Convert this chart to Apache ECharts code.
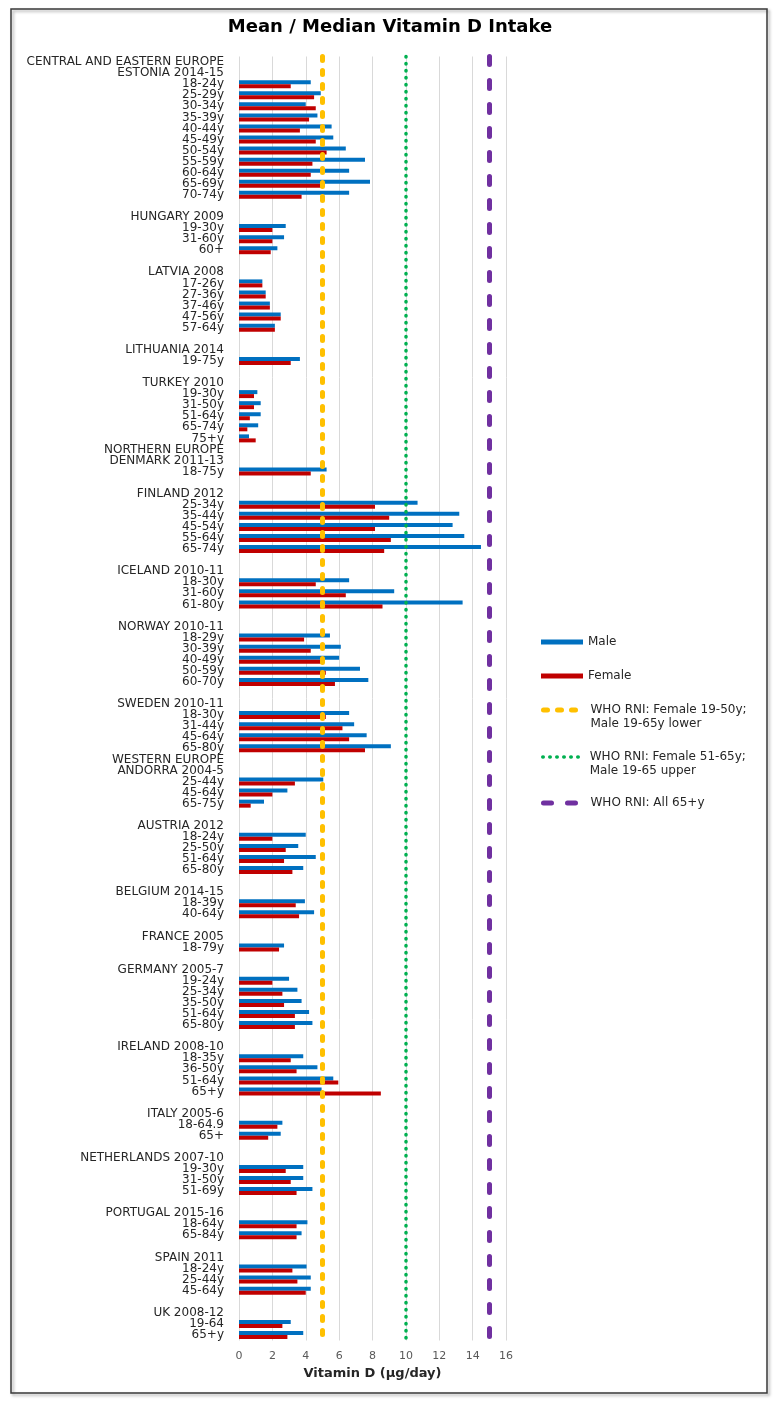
<!DOCTYPE html>
<html>
<head>
<meta charset="utf-8">
<title>Mean / Median Vitamin D Intake</title>
<script src="https://cdn.jsdelivr.net/npm/echarts@6/dist/echarts.min.js"></script>
<style>
    html, body { margin: 0; padding: 0; background: #fff; }
    #chart { width: 780px; height: 1406px; }
</style>
</head>
<body>
<div id="chart"></div>
<script>
// rows of the chart, top to bottom ('' = spacer row)
var categories = [
    'CENTRAL AND EASTERN EUROPE', 'ESTONIA 2014-15',
    '18-24y', '25-29y', '30-34y', '35-39y', '40-44y', '45-49y', '50-54y', '55-59y', '60-64y', '65-69y', '70-74y',
    '',
    'HUNGARY 2009', '19-30y', '31-60y', '60+',
    '',
    'LATVIA 2008', '17-26y', '27-36y', '37-46y', '47-56y', '57-64y',
    '',
    'LITHUANIA 2014', '19-75y',
    '',
    'TURKEY 2010', '19-30y', '31-50y', '51-64y', '65-74y', '75+y',
    'NORTHERN EUROPE', 'DENMARK 2011-13', '18-75y',
    '',
    'FINLAND 2012', '25-34y', '35-44y', '45-54y', '55-64y', '65-74y',
    '',
    'ICELAND 2010-11', '18-30y', '31-60y', '61-80y',
    '',
    'NORWAY 2010-11', '18-29y', '30-39y', '40-49y', '50-59y', '60-70y',
    '',
    'SWEDEN 2010-11', '18-30y', '31-44y', '45-64y', '65-80y',
    'WESTERN EUROPE', 'ANDORRA 2004-5', '25-44y', '45-64y', '65-75y',
    '',
    'AUSTRIA 2012', '18-24y', '25-50y', '51-64y', '65-80y',
    '',
    'BELGIUM 2014-15', '18-39y', '40-64y',
    '',
    'FRANCE 2005', '18-79y',
    '',
    'GERMANY 2005-7', '19-24y', '25-34y', '35-50y', '51-64y', '65-80y',
    '',
    'IRELAND 2008-10', '18-35y', '36-50y', '51-64y', '65+y',
    '',
    'ITALY 2005-6', '18-64.9', '65+',
    '',
    'NETHERLANDS 2007-10', '19-30y', '31-50y', '51-69y',
    '',
    'PORTUGAL 2015-16', '18-64y', '65-84y',
    '',
    'SPAIN 2011', '18-24y', '25-44y', '45-64y',
    '',
    'UK 2008-12', '19-64', '65+y'
];

// µg/day, same row order as categories
var maleValues = [
    null, null,
    4.3, 4.9, 4.0, 4.7, 5.55, 5.65, 6.4, 7.55, 6.6, 7.85, 6.6,
    null,
    null, 2.8, 2.7, 2.3,
    null,
    null, 1.4, 1.6, 1.85, 2.5, 2.15,
    null,
    null, 3.65,
    null,
    null, 1.1, 1.3, 1.3, 1.15, 0.6,
    null, null, 5.25,
    null,
    null, 10.7, 13.2, 12.8, 13.5, 14.5,
    null,
    null, 6.6, 9.3, 13.4,
    null,
    null, 5.45, 6.1, 6.0, 7.25, 7.75,
    null,
    null, 6.6, 6.9, 7.65, 9.1,
    null, null, 5.05, 2.9, 1.5,
    null,
    null, 4.0, 3.55, 4.6, 3.85,
    null,
    null, 3.95, 4.5,
    null,
    null, 2.7,
    null,
    null, 3.0, 3.5, 3.75, 4.2, 4.4,
    null,
    null, 3.85, 4.7, 5.65, 4.95,
    null,
    null, 2.6, 2.5,
    null,
    null, 3.85, 3.85, 4.4,
    null,
    null, 4.1, 3.75,
    null,
    null, 4.05, 4.3, 4.3,
    null,
    null, 3.1, 3.85
];

var femaleValues = [
    null, null,
    3.1, 4.5, 4.6, 4.2, 3.65, 4.6, 5.25, 4.4, 4.3, 4.9, 3.75,
    null,
    null, 2.0, 2.0, 1.9,
    null,
    null, 1.4, 1.6, 1.85, 2.5, 2.15,
    null,
    null, 3.1,
    null,
    null, 0.9, 0.9, 0.65, 0.5, 1.0,
    null, null, 4.3,
    null,
    null, 8.15, 9.0, 8.15, 9.1, 8.7,
    null,
    null, 4.6, 6.4, 8.6,
    null,
    null, 3.9, 4.3, 4.9, 5.2, 5.75,
    null,
    null, 5.2, 6.2, 6.6, 7.55,
    null, null, 3.35, 2.0, 0.7,
    null,
    null, 2.0, 2.8, 2.7, 3.2,
    null,
    null, 3.4, 3.6,
    null,
    null, 2.4,
    null,
    null, 2.0, 2.6, 2.7, 3.35, 3.35,
    null,
    null, 3.1, 3.45, 5.95, 8.5,
    null,
    null, 2.3, 1.75,
    null,
    null, 2.8, 3.1, 3.45,
    null,
    null, 3.45, 3.45,
    null,
    null, 3.2, 3.5, 4.0,
    null,
    null, 2.6, 2.9
];

// WHO reference nutrient intakes
var rniNames = [
    'WHO RNI: Female 19-50y;\nMale 19-65y lower',
    'WHO RNI: Female 51-65y;\nMale 19-65 upper',
    'WHO RNI: All 65+y'
];
var rniValues = [5, 10, 15];

var xTicks = { min: 0, max: 16, step: 2 };

;(function () {

    'use strict';

    var FONT = 'DejaVu Sans';
    var rniColors = ['#FFC000', '#00B050', '#7030A0'];
    var rniWidths = [5, 3.5, 5];
    var rniDash = [[4, 10], [0.5, 6.5], [8, 16]];
    // legend rows: top of each legend block
    var rniLegendTop = [689, 736, 796];

    var rniSeries = function () {
        return rniNames.map(function (name, i) {
            var style = {
                color: rniColors[i],
                width: rniWidths[i],
                type: rniDash[i],
                cap: 'round'
            };
            return {
                name: name,
                type: 'line',
                data: [],
                symbol: 'none',
                itemStyle: { color: rniColors[i] },
                lineStyle: style,
                markLine: {
                    silent: true,
                    symbol: ['none', 'none'],
                    label: { show: false },
                    emphasis: { disabled: true },
                    lineStyle: style,
                    data: [{ xAxis: rniValues[i] }]
                }
            };
        });
    };

    // one legend block per reference line, so the icon sits on the first text line
    var rniLegends = function () {
        return rniNames.map(function (name, i) {
            var twoLines = name.indexOf('\n') > -1;
            return {
                orient: 'vertical',
                left: 541,
                top: rniLegendTop[i],
                padding: 0,
                itemWidth: 42,
                itemHeight: 5,
                selectedMode: false,
                formatter: function (n) {
                    return twoLines ? ' \n' + n : n;
                },
                textStyle: { fontFamily: FONT, fontSize: 12, lineHeight: 14, color: '#262626' },
                data: [{
                    name: name,
                    itemStyle: { opacity: 0 },
                    lineStyle: { width: rniWidths[i] }
                }]
            };
        });
    };

    var drawChart = function () {
        var myChart = echarts.init(document.getElementById('chart'), null, { renderer: 'canvas' });

        var option = {
            animation: false,
            backgroundColor: '#ffffff',
            title: {
                text: 'Mean / Median Vitamin D Intake',
                left: 'center',
                top: 18,
                padding: 0,
                textStyle: { fontFamily: FONT, fontSize: 18, fontWeight: 'bold', color: '#000' }
            },
            legend: [{
                orient: 'vertical',
                left: 541,
                top: 635,
                padding: 0,
                itemGap: 20,
                itemWidth: 42,
                itemHeight: 5,
                icon: 'rect',
                selectedMode: false,
                textStyle: { fontFamily: FONT, fontSize: 12, lineHeight: 14, color: '#262626' },
                data: ['Male', 'Female']
            }].concat(rniLegends()),
            grid: { left: 239, right: 274, top: 56.5, bottom: 65.5 },
            xAxis: {
                type: 'value',
                min: xTicks.min,
                max: xTicks.max,
                interval: xTicks.step,
                axisLine: { show: false },
                axisTick: { show: false },
                splitLine: { lineStyle: { color: '#d9d9d9', width: 1 } },
                axisLabel: { margin: 10, fontFamily: FONT, fontSize: 11, color: '#595959' },
                name: 'Vitamin D (µg/day)',
                nameLocation: 'middle',
                nameGap: 27,
                nameTextStyle: { fontFamily: FONT, fontSize: 13, fontWeight: 'bold', color: '#262626' }
            },
            yAxis: {
                type: 'category',
                inverse: true,
                data: categories,
                axisLine: { show: false },
                axisTick: { show: false },
                splitLine: { show: false },
                axisLabel: {
                    interval: 0,
                    margin: 15,
                    fontFamily: FONT,
                    fontSize: 12,
                    lineHeight: 12,
                    color: '#262626'
                }
            },
            series: [
                {
                    name: 'Male',
                    type: 'bar',
                    data: maleValues,
                    barWidth: 4,
                    barGap: '0%',
                    itemStyle: { color: '#0070C0' }
                },
                {
                    name: 'Female',
                    type: 'bar',
                    data: femaleValues,
                    barWidth: 4,
                    barGap: '0%',
                    itemStyle: { color: '#C00000' }
                }
            ].concat(rniSeries()),
            graphic: [{
                type: 'rect',
                silent: true,
                z: 100,
                shape: { x: 11, y: 9, width: 756, height: 1384 },
                style: {
                    fill: null,
                    stroke: '#3a3a3a',
                    lineWidth: 1.5,
                    shadowColor: 'rgba(0,0,0,0.35)',
                    shadowBlur: 3,
                    shadowOffsetX: 2,
                    shadowOffsetY: 2
                }
            }]
        };

        myChart.setOption(option);
    };

    drawChart();

}());
</script>
</body>
</html>
